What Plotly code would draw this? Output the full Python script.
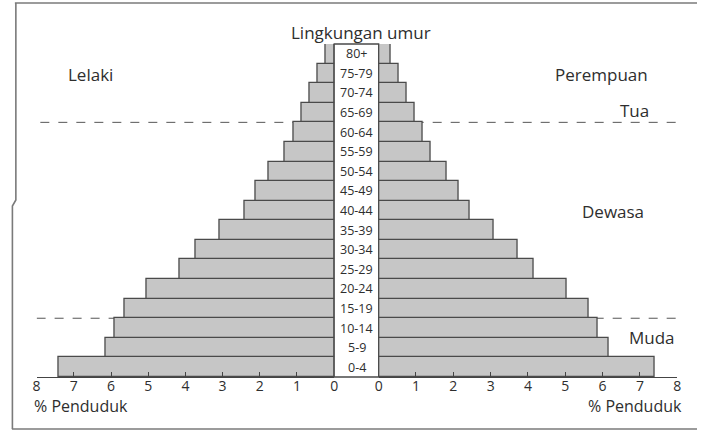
import plotly.graph_objects as go

# ---- data ----
age_groups = ["0-4", "5-9", "10-14", "15-19", "20-24", "25-29", "30-34", "35-39",
              "40-44", "45-49", "50-54", "55-59", "60-64", "65-69", "70-74", "75-79", "80+"]
male_pct = [7.42, 6.15, 5.9, 5.64, 5.03, 4.16, 3.72, 3.08,
            2.42, 2.12, 1.75, 1.33, 1.1, 0.88, 0.66, 0.45, 0.24]
female_pct = [7.4, 6.15, 5.88, 5.63, 5.03, 4.16, 3.72, 3.08,
              2.43, 2.15, 1.82, 1.4, 1.18, 0.97, 0.76, 0.54, 0.33]
tick_vals = [0, 1, 2, 3, 4, 5, 6, 7, 8]
header_text = "Lingkungan umur"
left_title = "Lelaki"
right_title = "Perempuan"
axis_title = "% Penduduk"
zone_labels = ["Tua", "Dewasa", "Muda"]

W, H = 701, 432
def px(x):
    return x / W
def py(y):
    return 1 - y / H

FONT = "Open Sans"
TXT = "#2e2e2e"
BAR_FILL = "#c6c6c6"
BAR_LINE = "#4a4a4a"

fig = go.Figure()
fig.add_trace(go.Bar(y=age_groups, x=male_pct, orientation="h", xaxis="x", yaxis="y",
                     marker=dict(color=BAR_FILL, line=dict(color=BAR_LINE, width=1.3)),
                     showlegend=False, hoverinfo="x+y"))
fig.add_trace(go.Bar(y=age_groups, x=female_pct, orientation="h", xaxis="x2", yaxis="y",
                     marker=dict(color=BAR_FILL, line=dict(color=BAR_LINE, width=1.3)),
                     showlegend=False, hoverinfo="x+y"))

axis_common = dict(tickvals=tick_vals, ticktext=[str(v) for v in tick_vals],
                   showline=True, linecolor="#444", linewidth=1.3,
                   ticks="inside", ticklen=5, tickwidth=1.2, tickcolor="#444",
                   ticklabelstandoff=-4,
                   showgrid=False, zeroline=False,
                   tickfont=dict(family=FONT, size=14, color=TXT))

fig.update_layout(
    width=W, height=H, autosize=False,
    margin=dict(l=0, r=0, t=0, b=0),
    paper_bgcolor="white", plot_bgcolor="rgba(0,0,0,0)",
    bargap=0,
    xaxis=dict(domain=[px(33), px(334)], range=[8, 0], anchor="y", **axis_common),
    xaxis2=dict(domain=[px(379), px(681)], range=[0, 8], anchor="y", **axis_common),
    yaxis=dict(domain=[py(377), py(44)], type="category",
               categoryorder="array", categoryarray=age_groups,
               range=[-0.5, len(age_groups) - 0.5],
               showticklabels=False, showline=False, showgrid=False,
               zeroline=False, ticks="", anchor="x"),
)

shapes = []
dash_line = dict(color="#555", width=1, dash="dash")
# age-zone dashed separators (behind bars)
shapes.append(dict(type="line", xref="x", yref="y", x0=7.9, x1=0, y0=12.5, y1=12.5,
                   line=dash_line, layer="below"))
shapes.append(dict(type="line", xref="x2", yref="y", x0=0, x1=8.1, y0=12.5, y1=12.5,
                   line=dash_line, layer="below"))
shapes.append(dict(type="line", xref="x", yref="y", x0=8, x1=0, y0=2.5, y1=2.5,
                   line=dash_line, layer="below"))
shapes.append(dict(type="line", xref="x2", yref="y", x0=0, x1=8.05, y0=2.5, y1=2.5,
                   line=dash_line, layer="below"))
# label column box
shapes.append(dict(type="rect", xref="paper", yref="paper",
                   x0=px(334), x1=px(379), y0=py(377), y1=py(44),
                   line=dict(color=BAR_LINE, width=1.3), fillcolor="rgba(0,0,0,0)"))
# page frame
frame = dict(color="#7a7a7a", width=1.6)
shapes.append(dict(type="line", xref="paper", yref="paper",
                   x0=px(11), x1=1, y0=py(3), y1=py(3), line=frame))
shapes.append(dict(type="line", xref="paper", yref="paper",
                   x0=px(8), x1=1, y0=py(429), y1=py(429), line=frame))
shapes.append(dict(type="path", xref="paper", yref="paper",
                   path=f"M {px(12)},{py(3)} L {px(12)},{py(200)} L {px(8.5)},{py(206)} L {px(8.5)},{py(429)}",
                   line=frame))
fig.update_layout(shapes=shapes)

ann = []
def text(t, x, y, size=17, xanchor="center"):
    ann.append(dict(text=t, x=px(x), y=py(y), xref="paper", yref="paper",
                    showarrow=False, xanchor=xanchor, yanchor="middle",
                    font=dict(family=FONT, size=size, color=TXT)))

text(header_text, 361, 33)
text(left_title, 88, 74)
text(right_title, 604, 74)
text(zone_labels[0], 638, 110)
text(zone_labels[1], 616, 212)
text(zone_labels[2], 655, 337)
text(axis_title, 28, 406, size=16, xanchor="left")
text(axis_title, 688, 406, size=16, xanchor="right")

for g in age_groups:
    ann.append(dict(text=g, x=px(357), y=g, xref="paper", yref="y",
                    showarrow=False, xanchor="center", yanchor="middle",
                    font=dict(family=FONT, size=12.5, color=TXT)))
fig.update_layout(annotations=ann)

fig.write_html("out.html", config={"displayModeBar": False},
               post_script="document.body.style.margin='0';document.body.style.overflow='hidden';")
